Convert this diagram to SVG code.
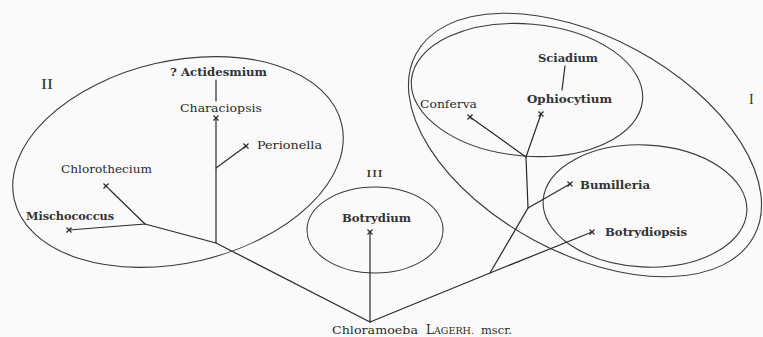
<svg xmlns="http://www.w3.org/2000/svg" width="763" height="337" viewBox="0 0 763 337">
<defs>
<style>
.bg{fill:#fafafa}
.grp{fill:none;stroke:#3a3a3a;stroke-width:1.1}
.ln{fill:none;stroke:#2a2a2a;stroke-width:1.2;stroke-linecap:round}
.lbl{font-family:"DejaVu Serif","Liberation Serif",serif;font-size:10.5px;fill:#2a2a2a}
.b{font-weight:bold;fill:#333}
.num{font-family:"Liberation Serif","DejaVu Serif",serif;fill:#333}
.mk{fill:none;stroke:#2a2a2a;stroke-width:1.2}
</style>
<path id="x" class="mk" d="M-2.5,-2.5L2.5,2.5M-2.5,2.5L2.5,-2.5"/>
</defs>
<rect class="bg" x="0" y="0" width="763" height="337"/>

<g id="groups">
<ellipse id="group-II" class="grp" cx="178" cy="162" rx="168" ry="101" transform="rotate(-13 178 162)"/>
<ellipse id="group-I" class="grp" cx="585" cy="145" rx="192" ry="108" transform="rotate(28.4 585 145)"/>
<ellipse id="group-I-upper" class="grp" cx="527" cy="90" rx="116" ry="66" transform="rotate(5 527 90)"/>
<ellipse id="group-I-lower" class="grp" cx="645" cy="206" rx="102" ry="61" transform="rotate(3 645 206)"/>
<ellipse id="group-III" class="grp" cx="375" cy="230" rx="68" ry="43"/>
</g>

<g id="connectors">
<path class="ln" d="M216,80L216,101"/>
<path class="ln" d="M216,118L216,243"/>
<path class="ln" d="M216,168L246,146"/>
<path class="ln" d="M145,224L216,243L370,322"/>
<path class="ln" d="M109,189L145,224"/>
<path class="ln" d="M69,230L145,224"/>
<path class="ln" d="M370,322L370,232"/>
<path class="ln" d="M370,322L490,273L592,232"/>
<path class="ln" d="M490,273L528,208L526,157"/>
<path class="ln" d="M528,208L570,184"/>
<path class="ln" d="M526,157L470,117"/>
<path class="ln" d="M526,157L541,114"/>
<path class="ln" d="M565,66L562,90"/>
</g>

<g id="node-actidesmium"><text class="lbl b" x="170" y="76" textLength="97" lengthAdjust="spacingAndGlyphs">? Actidesmium</text></g>
<g id="node-characiopsis"><use href="#x" x="216" y="118"/><text class="lbl" x="180" y="112" textLength="82" lengthAdjust="spacingAndGlyphs">Characiopsis</text></g>
<g id="node-perionella"><use href="#x" x="246" y="146"/><text class="lbl" x="257" y="149" textLength="65" lengthAdjust="spacingAndGlyphs">Perionella</text></g>
<g id="node-chlorothecium"><use href="#x" x="106" y="186"/><text class="lbl" x="61" y="173" textLength="91" lengthAdjust="spacingAndGlyphs">Chlorothecium</text></g>
<g id="node-mischococcus"><use href="#x" x="69" y="230"/><text class="lbl b" x="26" y="220" textLength="88" lengthAdjust="spacingAndGlyphs">Mischococcus</text></g>
<g id="node-botrydium"><use href="#x" x="370" y="232"/><text class="lbl b" x="342" y="222" textLength="69" lengthAdjust="spacingAndGlyphs">Botrydium</text></g>
<g id="node-sciadium"><text class="lbl b" x="538" y="62" textLength="60" lengthAdjust="spacingAndGlyphs">Sciadium</text></g>
<g id="node-ophiocytium"><use href="#x" x="541" y="114"/><text class="lbl b" x="527" y="103" textLength="85" lengthAdjust="spacingAndGlyphs">Ophiocytium</text></g>
<g id="node-conferva"><use href="#x" x="470" y="117"/><text class="lbl" x="420" y="108" textLength="57" lengthAdjust="spacingAndGlyphs">Conferva</text></g>
<g id="node-bumilleria"><use href="#x" x="570" y="184"/><text class="lbl b" x="580" y="189" textLength="70" lengthAdjust="spacingAndGlyphs">Bumilleria</text></g>
<g id="node-botrydiopsis"><use href="#x" x="592" y="232"/><text class="lbl b" x="605" y="236" textLength="82" lengthAdjust="spacingAndGlyphs">Botrydiopsis</text></g>
<g id="node-chloramoeba"><text class="lbl" x="332" y="334"><tspan textLength="86" lengthAdjust="spacingAndGlyphs">Chloramoeba</tspan><tspan x="426" font-size="12">L</tspan><tspan font-size="8.5" textLength="40" lengthAdjust="spacingAndGlyphs">AGERH.</tspan><tspan x="481" font-size="10.5" textLength="31" lengthAdjust="spacingAndGlyphs">mscr.</tspan></text></g>

<g id="label-II"><text class="num" x="41" y="89" font-size="14" textLength="12" lengthAdjust="spacingAndGlyphs">II</text></g>
<g id="label-I"><text class="num" x="749" y="104" font-size="14">I</text></g>
<g id="label-III"><text class="num" x="366" y="177" font-size="11" textLength="17" lengthAdjust="spacingAndGlyphs">III</text></g>
</svg>
